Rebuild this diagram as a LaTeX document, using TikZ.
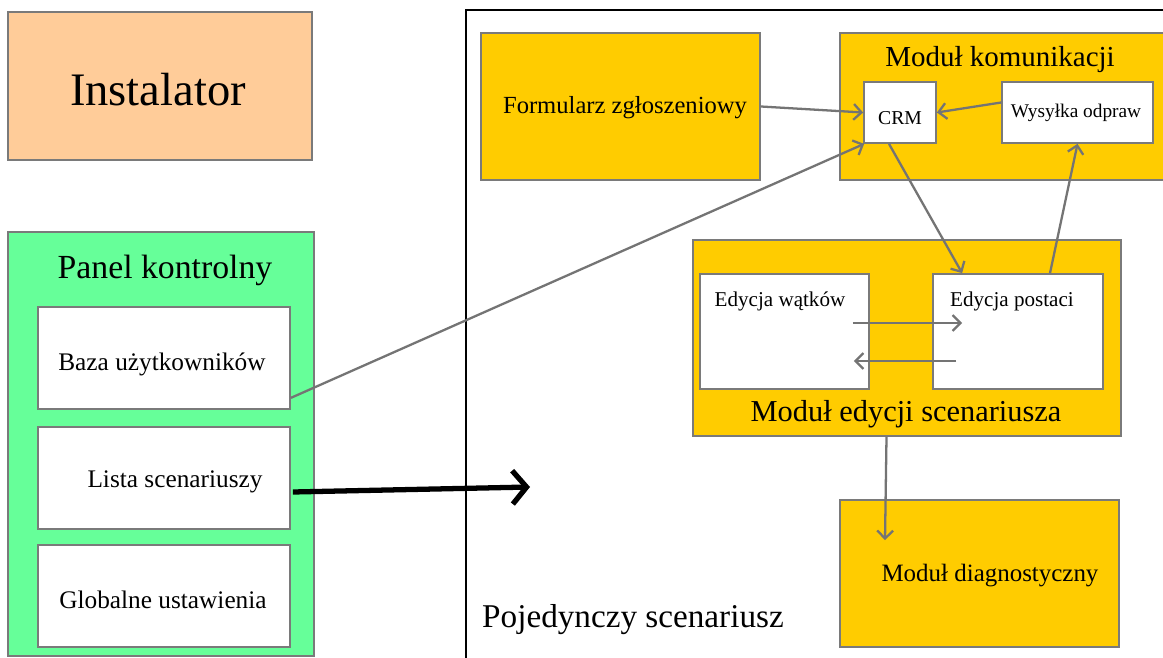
\documentclass[tikz,border=0pt]{standalone}
\usepackage{fontspec}
\setmainfont{Liberation Serif}
\usetikzlibrary{arrows.meta,fit,calc}
\definecolor{gold}{HTML}{FFCC00}
\definecolor{mint}{HTML}{66FF99}
\definecolor{peach}{HTML}{FFCC99}
\definecolor{bordergray}{HTML}{7A7A7A}
\definecolor{arrowgray}{HTML}{747474}
\newcommand{\fs}[1]{\fontsize{#1}{#1}\selectfont}
\tikzset{
  box/.style={draw=bordergray, line width=1pt, inner sep=0pt},
  goldbox/.style={box, fill=gold},
  whitebox/.style={box, fill=white},
  lbl/.style={inner sep=0pt, text=black},
  conn/.style={draw=arrowgray, line width=1.3pt, -{Straight Barb[length=4.5pt,width=9pt,line width=1.3pt]}},
  bigarrow/.style={draw=black, line width=3pt, -{Straight Barb[length=8pt,width=19pt,line width=3pt]}}
}
\begin{document}
\begin{tikzpicture}[x=0.02cm,y=-0.02cm]
\useasboundingbox (0,0) rectangle (1163,658);
\clip (0,0) rectangle (1163,658);
\fill[white] (0,0) rectangle (1163,658);
% scenario frame
\node[draw=black, line width=0.6pt, inner sep=0pt, fit={(466,10) (1200,700)}] (frame) {};
% Instalator
\node[box, fill=peach, fit={(8,12) (312,160)}] (inst) {};
\node[lbl] (instl) at (158,90) {\fs{26.5}Instalator};
% Panel kontrolny
\node[box, fill=mint, fit={(8,232) (314,656)}] (panel) {};
\node[lbl] (panell) at (165,270) {\fs{19.2}Panel kontrolny};
\node[whitebox, fit={(38,307) (290,409)}] (baza) {};
\node[lbl] (bazal) at (162,364) {\fs{14.4}Baza użytkowników};
\node[whitebox, fit={(38,427) (290,529)}] (lista) {};
\node[lbl] (listal) at (175,482) {\fs{14.4}Lista scenariuszy};
\node[whitebox, fit={(38,545) (290,647)}] (glob) {};
\node[lbl] (globl) at (163,600) {\fs{14.4}Globalne ustawienia};
% Formularz
\node[goldbox, fit={(481,33) (760,180)}] (form) {};
\node[lbl] (forml) at (625,108) {\fs{14}Formularz zgłoszeniowy};
% Modul komunikacji
\node[goldbox, fit={(840,33) (1190,180)}] (kom) {};
\node[lbl] (koml) at (1000,60) {\fs{16.5}Moduł komunikacji};
\node[whitebox, fit={(864,82) (936,143)}] (crm) {};
\node[lbl] (crml) at (900,118) {\fs{11.2}CRM};
\node[whitebox, fit={(1002,82) (1153,143)}] (wys) {};
\node[lbl] (wysl) at (1076,113) {\fs{11}Wysyłka odpraw};
% Modul edycji scenariusza
\node[goldbox, fit={(693,240) (1121,436)}] (edyc) {};
\node[lbl] (edycl) at (906,414) {\fs{17.3}Moduł edycji scenariusza};
\node[whitebox, fit={(700,274) (869,389)}] (watk) {};
\node[lbl] (watkl) at (780,301) {\fs{12}Edycja wątków};
\node[whitebox, fit={(933,274) (1103,389)}] (post) {};
\node[lbl] (postl) at (1012,301) {\fs{12}Edycja postaci};
% Modul diagnostyczny
\node[goldbox, fit={(840,500) (1119,647)}] (diag) {};
\node[lbl] (diagl) at (990,576) {\fs{14.2}Moduł diagnostyczny};
% Pojedynczy scenariusz
\node[lbl] (pojl) at (633,620) {\fs{18.9}Pojedynczy scenariusz};
% connectors
\draw[conn] (form.east) -- (crm.west);
\draw[conn] ($(wys.west)+(0,-10)$) -- (crm.east);
\draw[conn] ($(baza.south east)+(0,-12)$) -- ($(crm.south west)+(1,0)$);
\draw[conn] ($(crm.south)+(-11,0)$) -- ($(post.north west)+(30,0)$);
\draw[conn] ($(post.north)+(32,0)$) -- (wys.south);
\draw[conn] ($(watk.east)+(-17,-8.5)$) -- ($(post.west)+(30,-8.5)$);
\draw[conn] ($(post.west)+(24,29.5)$) -- ($(watk.east)+(-16,29.5)$);
\draw[conn] ($(edyc.south)+(-20.5,0)$) -- ($(diag.north)+(-94.5,41)$);
\coordinate (thickend) at (530,487);
\draw[bigarrow] ($(lista.east)+(2,14)$) -- (thickend);
\end{tikzpicture}
\end{document}
